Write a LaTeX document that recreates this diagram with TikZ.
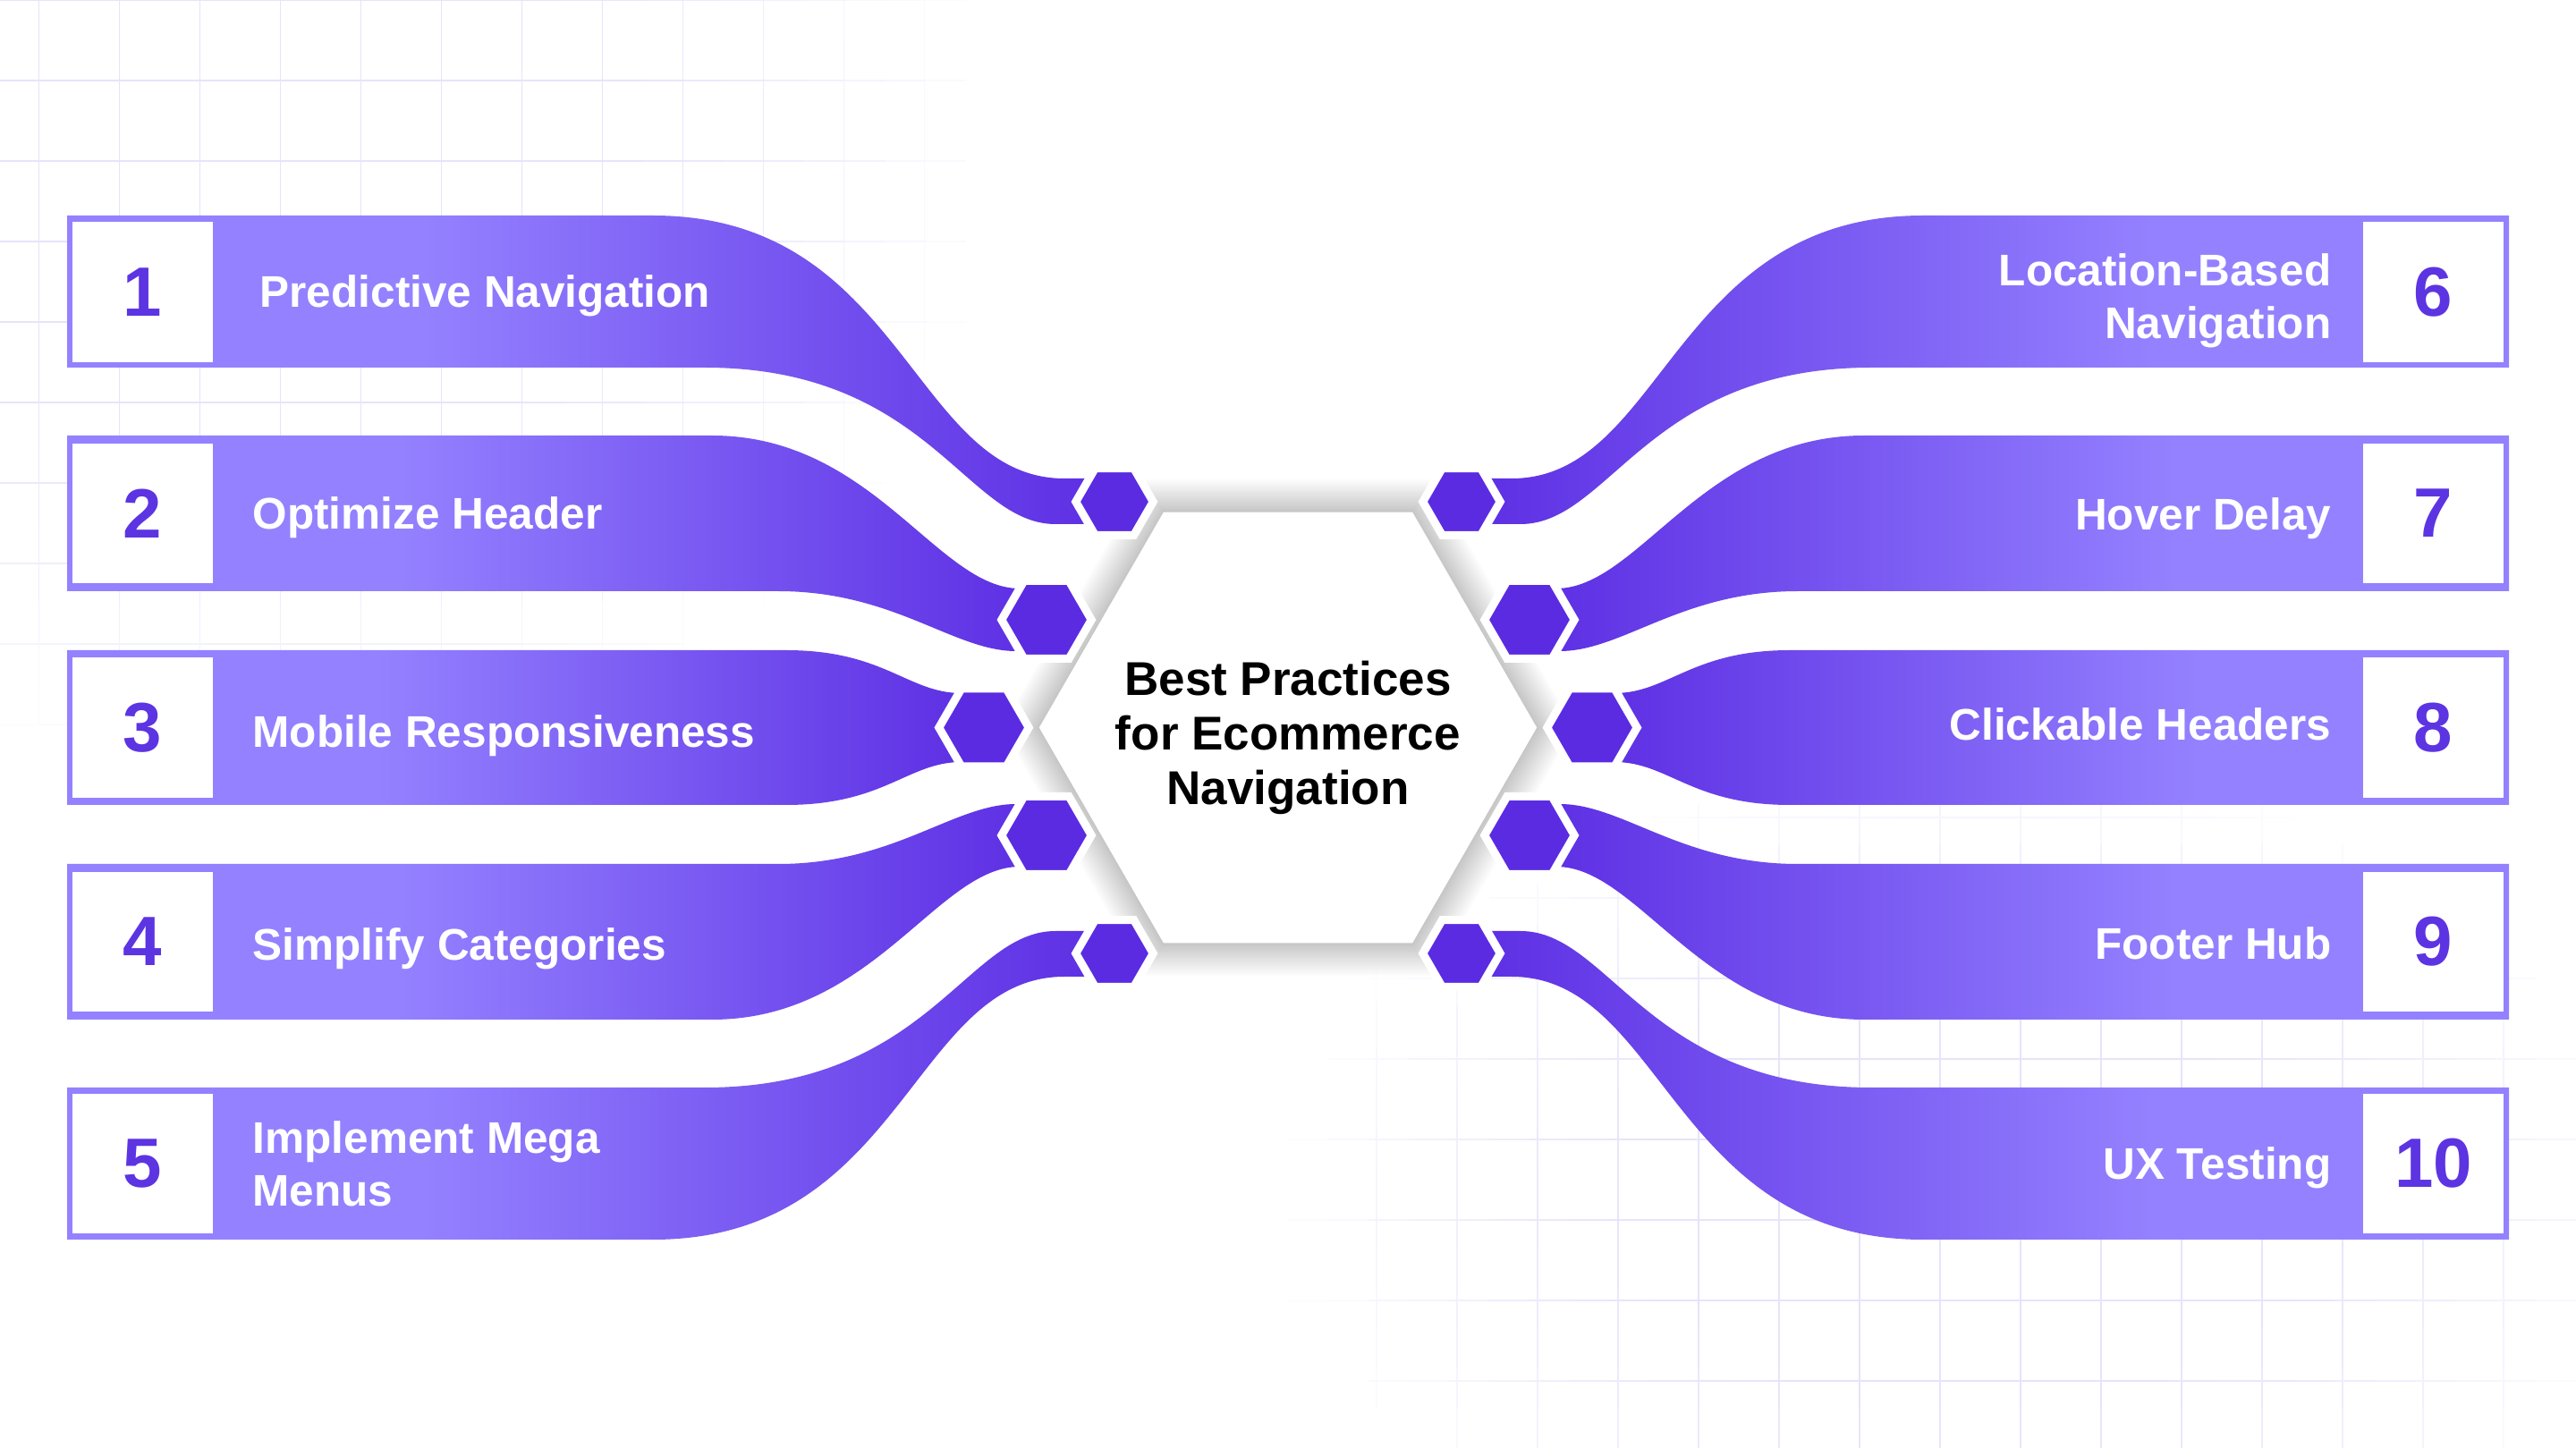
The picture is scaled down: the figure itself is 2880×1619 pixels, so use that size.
\documentclass[tikz,border=0pt]{standalone}
\usepackage{fontspec}
\setmainfont{Liberation Sans}
\usetikzlibrary{shapes.geometric,calc}
\definecolor{bandL}{RGB}{148,129,255}
\definecolor{bandD}{RGB}{92,45,227}
\definecolor{hexc}{RGB}{91,43,226}
\definecolor{numc}{RGB}{92,52,226}
\definecolor{gridc}{RGB}{230,228,250}
\pgfdeclarehorizontalshading{bandshade}{100bp}{color(0bp)=(bandL); color(25bp)=(bandL); color(42bp)=(bandL); color(75bp)=(bandD); color(100bp)=(bandD)}
\pgfdeclarelayer{bg}
\pgfdeclarelayer{bandlayer}
\pgfsetlayers{bg,bandlayer,main}
\newcommand\lblfont{\fontsize{14.08pt}{16.79pt}\selectfont\bfseries}
\newcommand\numfont{\fontsize{22.2pt}{26pt}\selectfont\bfseries}
\newcommand\ttlfont{\fontsize{15.08pt}{17.36pt}\selectfont\bfseries}
% bands: #1 hex node, #2 xscale, #3 yscale, #4 shading angle
\newcommand\bandouter[4]{%
 \begin{scope}[shift={(1440,813.5)},xscale=#2,yscale=#3,shift={(-1440,-813.5)}]
  \coordinate (bta) at (1190,535);
  \coordinate (btb) at (1180,586);
  \path[band,shading angle=#4] (75,241) -- (730,241) .. controls (1010,241) and (1020,535) .. (bta) -- (bta -| #1.center) -- (btb -| #1.center) -- (btb) .. controls (1080,586) and (1038,411) .. (788,411) -- (75,411) -- cycle;
 \end{scope}}
\newcommand\bandinner[4]{%
 \begin{scope}[shift={(1440,813.5)},xscale=#2,yscale=#3,shift={(-1440,-813.5)}]
  \coordinate (bta) at (1140,658);
  \coordinate (btb) at (1136,728);
  \path[band,shading angle=#4] (75,487) -- (796,487) .. controls (976,487) and (1048,658) .. (bta) -- (bta -| #1.center) -- (btb -| #1.center) -- (btb) .. controls (1066,728) and (1000,661) .. (870,661) -- (75,661) -- cycle;
 \end{scope}}
\newcommand\bandmid[4]{%
 \begin{scope}[shift={(1440,813.5)},xscale=#2,yscale=#3,shift={(-1440,-813.5)}]
  \coordinate (bta) at (1075,775);
  \coordinate (btb) at (1075,852);
  \path[band,shading angle=#4] (75,727) -- (879,727) .. controls (989,727) and (1015,775) .. (bta) -- (bta -| #1.center) -- (btb -| #1.center) -- (btb) .. controls (1015,852) and (989,900) .. (879,900) -- (75,900) -- cycle;
 \end{scope}}
\begin{document}
\begin{tikzpicture}[x=0.01cm,y=-0.01cm,
 band/.style={shade,shading=bandshade},
 numbox/.style={fill=white,minimum width=1.57cm,minimum height=1.56cm,inner sep=0pt,font=\numfont,text=numc},
 lbl/.style={font=\lblfont,text=white,inner sep=0pt},
 hexbase/.style={regular polygon,regular polygon sides=6,fill=hexc,draw=white,line width=0.09cm,inner sep=0pt},
 hexo/.style={hexbase,minimum size=0.864cm},
 hexi/.style={hexbase,minimum size=1.004cm},
 bighex/.style={regular polygon,regular polygon sides=6,fill=white,inner sep=0pt,minimum size=5.56cm},
 gline/.style={line width=0.016cm},
 hline/.style={line width=0.028cm},
 shadowlayer/.style={fill=black,opacity=0.017}]
\useasboundingbox (0,0) rectangle (2880,1619);

% ---------- background grid ----------
\begin{pgfonlayer}{bg}
\fill[white] (0,0) rectangle (2880,1619);
\foreach \i in {0,...,14}{
 \foreach \j in {0,...,21}{
  \pgfmathsetmacro\gx{43.6+90*\i}
  \pgfmathsetmacro\gy{45*\j+22.5}
  \pgfmathtruncatemacro\gp{max(0,min(100,130*(1-((\gx-300)/820)^2-((\gy-180)/700)^2)))}
  \ifnum\gp>6 \draw[gline,draw=gridc!\gp!white] (\gx,{\gy-22.5}) -- (\gx,{\gy+22.5}); \fi
 }}
\foreach \k in {0,...,10}{
 \foreach \j in {0,...,31}{
  \pgfmathsetmacro\gy{90*\k}
  \pgfmathsetmacro\gx{45*\j+22.5}
  \pgfmathtruncatemacro\gp{max(0,min(100,130*(1-((\gx-300)/820)^2-((\gy-180)/700)^2)))}
  \ifnum\gp>6 \draw[hline,draw=gridc!\gp!white] ({\gx-22.5},\gy) -- ({\gx+22.5},\gy); \fi
 }}
\foreach \i in {0,...,15}{
 \foreach \j in {0,...,16}{
  \pgfmathsetmacro\gx{1539+90*\i}
  \pgfmathsetmacro\gy{855+45*\j+22.5}
  \pgfmathtruncatemacro\gp{max(0,min(100,130*(1-((\gx-2200)/780)^2-((\gy-1340)/500)^2)))}
  \ifnum\gp>6 \draw[gline,draw=gridc!\gp!white] (\gx,{\gy-22.5}) -- (\gx,{\gy+22.5}); \fi
 }}
\foreach \k in {0,...,7}{
 \foreach \j in {0,...,31}{
  \pgfmathsetmacro\gy{914+90*\k}
  \pgfmathsetmacro\gx{1440+45*\j+22.5}
  \pgfmathtruncatemacro\gp{max(0,min(100,130*(1-((\gx-2200)/780)^2-((\gy-1340)/500)^2)))}
  \ifnum\gp>6 \draw[hline,draw=gridc!\gp!white] ({\gx-22.5},\gy) -- ({\gx+22.5},\gy); \fi
 }}
\end{pgfonlayer}

% ---------- central hexagon with soft shadow ----------
\coordinate (cc) at (1440,813.5);
\foreach \r in {281,284,...,320}{
 \fill[shadowlayer] ($(cc)+(0:\r)$) -- ($(cc)+(60:\r)$) -- ($(cc)+(120:\r)$) -- ($(cc)+(180:\r)$) -- ($(cc)+(240:\r)$) -- ($(cc)+(300:\r)$) -- cycle;
}
\node[bighex] (c) at (cc) {};
\node[font=\ttlfont,align=center,inner sep=0pt] (ttl) at (1440,825) {Best Practices\\for Ecommerce\\Navigation};

% ---------- small hexagons ----------
\node[hexo] (h1) at (1246,561) {};
\node[hexi] (h2) at (1170,693) {};
\node[hexi] (h3) at (1100,813.5) {};
\node[hexi] (h4) at (1170,934) {};
\node[hexo] (h5) at (1246,1066) {};
\node[hexo] (h6) at (1634,561) {};
\node[hexi] (h7) at (1710,693) {};
\node[hexi] (h8) at (1780,813.5) {};
\node[hexi] (h9) at (1710,934) {};
\node[hexo] (h10) at (1634,1066) {};

% ---------- number boxes ----------
\node[numbox] (b1) at (159.5,326.5) {1};
\node[numbox] (b2) at (159.5,574) {2};
\node[numbox] (b3) at (159.5,813.5) {3};
\node[numbox] (b4) at (159.5,1053) {4};
\node[numbox] (b5) at (159.5,1301) {5};
\node[numbox] (b6) at (2720.5,326.5) {6};
\node[numbox] (b7) at (2720.5,574) {7};
\node[numbox] (b8) at (2720.5,813.5) {8};
\node[numbox] (b9) at (2720.5,1053) {9};
\node[numbox] (b10) at (2720.5,1301) {10};

% ---------- labels ----------
\node[lbl,anchor=base west] (l1) at (290,344) {Predictive Navigation};
\node[lbl,anchor=base west] (l2) at (282,592) {Optimize Header};
\node[lbl,anchor=base west] (l3) at (282,836) {Mobile Responsiveness};
\node[lbl,anchor=base west] (l4) at (282,1074) {Simplify Categories};
\node[lbl,anchor=west,align=left] (l5) at (282,1301) {Implement Mega\\Menus};
\node[lbl,anchor=east,align=right] (l6) at (2607,336) {Location-Based\\Navigation};
\node[lbl,anchor=base east] (l7) at (2607,593) {Hover Delay};
\node[lbl,anchor=base east] (l8) at (2607,828) {Clickable Headers};
\node[lbl,anchor=base east] (l9) at (2607,1073) {Footer Hub};
\node[lbl,anchor=base east] (l10) at (2607,1319) {UX Testing};

% ---------- bands ----------
\begin{pgfonlayer}{bandlayer}
\bandouter{h1}{1}{1}{0}
\bandinner{h2}{1}{1}{0}
\bandmid{h3}{1}{1}{0}
\bandinner{h4}{1}{-1}{0}
\bandouter{h5}{1}{-1}{0}
\bandouter{h6}{-1}{1}{180}
\bandinner{h7}{-1}{1}{180}
\bandmid{h8}{-1}{1}{180}
\bandinner{h9}{-1}{-1}{180}
\bandouter{h10}{-1}{-1}{180}
\end{pgfonlayer}
\end{tikzpicture}
\end{document}
